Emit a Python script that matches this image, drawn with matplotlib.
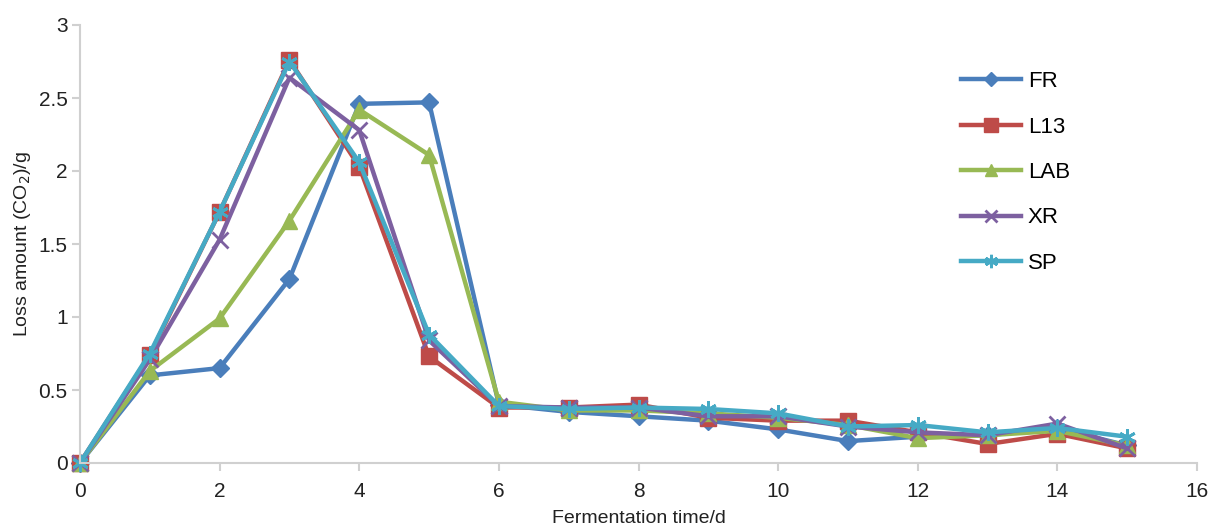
import matplotlib

matplotlib.use('agg')
import matplotlib.pyplot as plt
from matplotlib import font_manager

# fermentation days
days = list(range(16))

fr = [0, 0.60, 0.65, 1.26, 2.46, 2.47, 0.40, 0.35, 0.32, 0.29, 0.23, 0.15, 0.18, 0.19, 0.24, 0.12]
l13 = [0, 0.74, 1.72, 2.76, 2.03, 0.73, 0.38, 0.38, 0.40, 0.31, 0.29, 0.29, 0.21, 0.13, 0.20, 0.10]
lab = [0, 0.63, 0.99, 1.66, 2.42, 2.11, 0.42, 0.36, 0.36, 0.34, 0.31, 0.26, 0.17, 0.19, 0.22, 0.12]
xr = [0, 0.71, 1.53, 2.64, 2.28, 0.84, 0.39, 0.38, 0.38, 0.32, 0.32, 0.25, 0.21, 0.19, 0.27, 0.10]
sp = [0, 0.75, 1.72, 2.75, 2.06, 0.88, 0.39, 0.37, 0.38, 0.37, 0.34, 0.25, 0.26, 0.21, 0.24, 0.18]

names = ['FR', 'L13', 'LAB', 'XR', 'SP']
colors = ['#4a7ebb', '#be4b48', '#98b954', '#7d60a0', '#46aac5']
markers = ['D', 's', '^', 'x', (6, 2, 0)]
msizes = [9, 12, 11, 11, 12]

installed = [f.name for f in font_manager.fontManager.ttflist]
fam = 'Liberation Sans Narrow' if 'Liberation Sans Narrow' in installed else 'Liberation Sans'
plt.rcParams['font.family'] = [fam, 'DejaVu Sans']

fig = plt.figure(figsize=(12.11, 5.30), dpi=100)
ax = fig.add_axes([80 / 1211, 1 - 463 / 530, (1197 - 80) / 1211, (463 - 25) / 530])

for vals, name, c, m, ms in zip([fr, l13, lab, xr, sp], names, colors, markers, msizes):
    ax.plot(days, vals, color=c, lw=3.2, marker=m, markersize=ms,
            markeredgewidth=2 if m in ('x',) or isinstance(m, tuple) else 1,
            markeredgecolor=c, label=name, clip_on=False)

ax.set_xlim(0, 16)
ax.set_ylim(0, 3)
ax.set_xticks(range(0, 17, 2))
ax.set_yticks([0, 0.5, 1, 1.5, 2, 2.5, 3])
ax.set_yticklabels(['0', '0.5', '1', '1.5', '2', '2.5', '3'])

for s in ['top', 'right']:
    ax.spines[s].set_visible(False)
for s in ['left', 'bottom']:
    ax.spines[s].set_color('#d0d0d0')
    ax.spines[s].set_linewidth(1.5)
ax.tick_params(axis='both', colors='#d0d0d0', labelcolor='#222222', labelsize=15, width=1.5, length=6)
ax.tick_params(axis='x', pad=8)
ax.tick_params(axis='y', pad=3)

ax.set_xlabel('Fermentation time/d', fontsize=14, color='#222222', labelpad=6)
ax.set_ylabel('Loss amount (CO$_2$)/g', fontsize=14, color='#222222', labelpad=4)

leg = ax.legend(loc='upper left', bbox_to_anchor=(0.781, 0.915), frameon=False, fontsize=16,
                handlelength=2.7, handletextpad=0.3, labelspacing=1.1, borderaxespad=0,
                markerscale=0.8)

fig.savefig('out.png', dpi=100)
